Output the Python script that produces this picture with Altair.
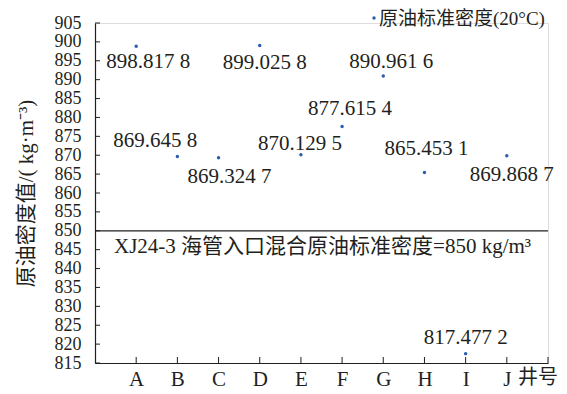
import altair as alt
import pandas as pd

wells = ["A", "B", "C", "D", "E", "F", "G", "H", "I", "J"]
density = [898.8178, 869.6458, 869.3247, 899.0258, 870.1295,
           877.6154, 890.9616, 865.4531, 817.4772, 869.8687]
ref_value = 850
ref_text = "XJ24-3 海管入口混合原油标准密度=850 kg/m³"
series_name = "原油标准密度(20°C)"
x_title = "井号"
y_title = "原油密度值/( kg·m⁻³)"
y_ticks = list(range(815, 906, 5))

# label offsets (px) for value annotations
label_off = {
    "A": (12, 16), "B": (-22, -16), "C": (11, 19), "D": (5, 17), "E": (-1, -11),
    "F": (8, -17), "G": (8, -14), "H": (2, -23), "I": (0, -16), "J": (5, 19),
}

FONT = "'Liberation Serif', 'Noto Sans CJK SC', serif"
FS = 21
TXT = "#231f20"
DOT = "#2a5db0"

def fmt(v):
    s = f"{v:.4f}"
    return s[:-1] + " " + s[-1]

df = pd.DataFrame({
    "well": wells,
    "pos": list(range(1, len(wells) + 1)),
    "density": density,
    "label": [fmt(v) for v in density],
})

x_positions = list(range(1, len(wells) + 2))
label_expr = "[" + ",".join(f"'{l}'" for l in ([""] + wells + [""])) + "][datum.value]"

x_scale = alt.Scale(domain=[0, len(wells) + 1], nice=False, zero=False)
y_scale = alt.Scale(domain=[815, 905], nice=False, zero=False)

x_axis = alt.Axis(values=x_positions, labelExpr=label_expr,
                  title=None, grid=False, ticks=False, labelPadding=5,
                  labelFont=FONT, labelFontSize=FS, labelColor=TXT,
                  domainColor=TXT, domainWidth=1.2, labelFlush=False,
                  labelOverlap=False)
y_axis = alt.Axis(values=y_ticks, title=y_title, grid=False, ticks=False,
                  labelPadding=14, labelFont=FONT, labelFontSize=18,
                  labelColor=TXT, domainColor=TXT, domainWidth=1.2,
                  titleFont=FONT, titleFontSize=FS, titleFontWeight="normal",
                  titleColor=TXT, titlePadding=18, labelOverlap=False,
                  labelFlush=False, labelBaseline="middle")

X = lambda f: alt.X(f, scale=x_scale, axis=x_axis)
Y = lambda f: alt.Y(f, scale=y_scale, axis=y_axis)

base = alt.Chart(df)

points = base.mark_point(filled=True, opacity=1, shape="circle", size=12,
                         color=DOT).encode(x=X("pos:Q"), y=Y("density:Q"))

layers = [points]
for w in wells:
    dx, dy = label_off[w]
    layers.append(
        base.transform_filter(alt.datum.well == w).mark_text(
            dx=dx, dy=dy, font=FONT, fontSize=FS, color=TXT, baseline="middle", align="center"
        ).encode(x=X("pos:Q"), y=Y("density:Q"), text="label:N")
    )

ref_df = pd.DataFrame({"v": [ref_value], "t": [ref_text]})
ref_rule = alt.Chart(ref_df).mark_rule(color=TXT, strokeWidth=1.2).encode(y=Y("v:Q"))
ref_label = alt.Chart(ref_df).mark_text(
    align="left", baseline="middle", dy=16, font=FONT, fontSize=FS, color=TXT
).encode(x=alt.value(19), y=Y("v:Q"), text="t:N")

ytick_df = pd.DataFrame({"v": y_ticks})
ytick_rules = alt.Chart(ytick_df).mark_rule(color=TXT, strokeWidth=1).encode(
    y=Y("v:Q"), x=alt.value(0), x2=alt.value(5))
xtick_df = pd.DataFrame({"p": x_positions})
xtick_rules = alt.Chart(xtick_df).mark_rule(color=TXT, strokeWidth=1).encode(
    x=X("p:Q"), y=alt.value(340), y2=alt.value(334))

# x-axis title sitting below the end of the axis
xt_df = pd.DataFrame({"t": [x_title]})
x_title_mark = alt.Chart(xt_df).mark_text(
    align="right", baseline="top", font=FONT, fontSize=20, color=TXT
).encode(x=alt.value(463), y=alt.value(345), text="t:N")

leg_df = pd.DataFrame({"s": [series_name]})
leg_dot = alt.Chart(leg_df).mark_point(filled=True, opacity=1, shape="circle", size=12,
                                       color=DOT).encode(x=alt.value(279), y=alt.value(-5))
leg_text = alt.Chart(leg_df).mark_text(
    align="left", baseline="middle", font=FONT, fontSize=19, color=TXT
).encode(x=alt.value(284), y=alt.value(-4), text="s:N")

chart = alt.layer(*layers, ref_rule, ref_label, ytick_rules, xtick_rules,
                  x_title_mark, leg_dot, leg_text).properties(
    width=453, height=340,
    autosize=alt.AutoSizeParams(type="none"),
    padding={"left": 87, "top": 15, "right": 11, "bottom": 26},
).configure_view(stroke=None).configure(background="white")

chart.save("out.html", embed_options={"renderer": "svg", "actions": False})
